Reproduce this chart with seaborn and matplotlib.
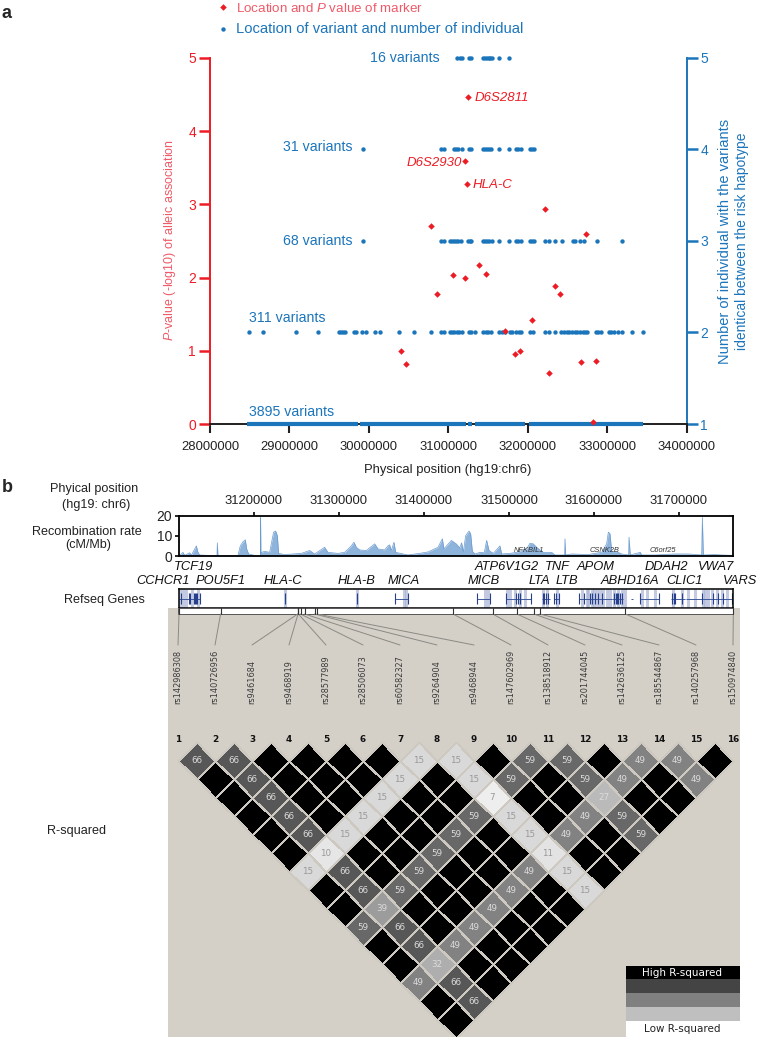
import numpy as np
import matplotlib
matplotlib.use('Agg')
import matplotlib.pyplot as plt
from matplotlib.transforms import Affine2D
from matplotlib.patches import Rectangle
import seaborn as sns

W, H = 757, 1037
RED = '#ed1c24'
PINK = '#ee5a68'
BLUE = '#1b75bb'

# panel a, positions in Mb
marker_pos = [30.407, 30.473, 30.863, 31.062, 31.204, 31.381, 31.473, 31.708, 31.836, 31.907, 32.049,
              32.270, 32.345, 32.407, 32.673, 32.858, 32.823, 31.254, 31.206, 31.236, 32.214, 30.780, 32.730]
marker_p = [1.00, 0.82, 1.78, 2.03, 2.00, 2.17, 2.05, 1.27, 0.96, 1.00, 1.42,
            0.70, 1.88, 1.77, 0.85, 0.86, 0.03, 4.47, 3.59, 3.28, 2.94, 2.70, 2.59]

row5_pos = [31.115, 31.144, 31.174, 31.257, 31.287, 31.439, 31.468, 31.493, 31.515, 31.531, 31.552, 31.644, 31.770]
row4_pos = [29.926, 30.913, 30.942, 31.068, 31.098, 31.123, 31.174, 31.257, 31.287, 31.439, 31.468, 31.493,
            31.515, 31.540, 31.644, 31.770, 31.855, 31.880, 31.909, 32.032, 32.057, 32.082]
row3_pos = [29.926, 30.913, 30.942, 31.022, 31.048, 31.073, 31.102, 31.123, 31.165, 31.249, 31.270, 31.291,
            31.439, 31.468, 31.493, 31.518, 31.544, 31.644, 31.770, 31.855, 31.880, 31.909, 32.032, 32.057,
            32.082, 32.212, 32.266, 32.347, 32.426, 32.569, 32.594, 32.653, 32.708, 32.876, 33.187]
row2_pos = [28.496, 28.665, 29.084, 29.358, 29.618, 29.643, 29.673, 29.702, 29.816, 29.841, 29.917, 29.958,
            30.077, 30.135, 30.380, 30.569, 30.783, 30.913, 30.951, 31.018, 31.048, 31.077, 31.111, 31.140,
            31.178, 31.257, 31.287, 31.333, 31.439, 31.472, 31.506, 31.540, 31.644, 31.678, 31.720, 31.774,
            31.808, 31.855, 31.888, 31.913, 32.027, 32.064, 32.216, 32.266, 32.347, 32.422, 32.455, 32.489,
            32.523, 32.556, 32.590, 32.624, 32.657, 32.691, 32.725, 32.750, 32.855, 32.880, 32.927, 33.028,
            33.053, 33.086, 33.142, 33.192, 33.318, 33.448]
row1_start = [28.47, 29.89, 31.25, 31.33, 32.02]
row1_end = [29.86, 31.22, 31.30, 31.96, 33.45]

# panel b, positions in kb
recomb_pos = [31111.8, 31116.5, 31118.4, 31124.3, 31126.3, 31132.2, 31134.1, 31136.1, 31145.9, 31156.5, 31156.9,
              31157.6, 31181.2, 31183.9, 31187.1, 31189.8, 31191.4, 31193.7, 31200.8, 31207.5, 31207.8, 31208.2,
              31209, 31212.5, 31218.4, 31223.1, 31225.5, 31227.5, 31229, 31236.1, 31255.7, 31265.5, 31271.4,
              31283.1, 31287.1, 31298.8, 31306.7, 31314.5, 31317.6, 31320.4, 31324.3, 31332.2, 31342, 31345.9,
              31353.7, 31357.6, 31359.6, 31361.6, 31364.7, 31366.7, 31381.2, 31394.9, 31404.7, 31416.5, 31421.6,
              31423.5, 31432.2, 31438, 31442, 31444.3, 31446.3, 31449, 31452.9, 31454.9, 31456.9, 31460, 31465.9,
              31471, 31473.7, 31476.5, 31481.6, 31489.4, 31491.4, 31501.2, 31509, 31514.9, 31520.8, 31524.7,
              31528.6, 31532.5, 31540.4, 31550.2, 31554.1, 31565.5, 31565.9, 31566.7, 31573.7, 31593.3, 31601.2,
              31609, 31614.9, 31616.9, 31618.8, 31620.8, 31628.6, 31632.5, 31640.8, 31641.2, 31642.7, 31654.5,
              31656.1, 31671.8, 31695.3, 31711, 31726.7, 31727.5, 31728.6, 31742.4, 31750.2, 31763.9]
recomb_rate = [0, 1.8, 0.3, 1.6, 0.3, 5, 1.8, 0.5, 0.3, 0.3, 6.5,
               0.3, 0.3, 5, 7, 8, 3.5, 1, 0.3, 0.3, 19, 0.3,
               1.8, 2.3, 1.8, 11.8, 12.3, 10, 1.3, 0.7, 1.3, 2.7, 1,
               4.3, 1.8, 1.3, 1.8, 5, 6.8, 4.3, 3, 2.7, 6, 3.5,
               3, 5, 5.5, 2.7, 6.8, 1.8, 0.5, 1.3, 2, 4.3, 8.5,
               3.5, 7.7, 6, 4, 6.5, 1.8, 10, 12.3, 11, 2.3, 1, 1.8,
               1.8, 7.7, 2.7, 1.3, 5, 1, 1.3, 1.8, 2.7, 3.5, 6.3,
               6, 4.3, 1.8, 1.8, 0.5, 0.5, 8.5, 0.5, 1, 0.7, 1.3,
               1.8, 6, 11.8, 11, 2.3, 1.8, 1, 0.5, 9.3, 0.5, 1.8,
               0.5, 0.5, 1, 1, 0.5, 19, 0.5, 0.7, 0.5, 0.3]
recomb_ticks = [31200, 31300, 31400, 31500, 31600, 31700]

gene_span_start = [31111.4, 31365.9, 31462, 31496, 31511, 31539, 31553, 31582, 31621, 31643.5, 31654, 31691, 31708]
gene_span_end = [31136.1, 31381.2, 31477.6, 31511, 31526, 31548, 31559, 31621, 31634.5, 31646, 31676, 31707, 31762]
gene_dark = [31114.5, 31123.1, 31124.3, 31129.4, 31130.6, 31131.8, 31132.9, 31136, 31236.5, 31321.6, 31365.9, 31381.2,
             31462, 31477.6, 31496, 31508, 31511, 31513, 31526, 31540, 31541.6, 31543, 31545.5, 31553, 31555.7, 31559,
             31582.4, 31588.6, 31595, 31598, 31601, 31605, 31609, 31624, 31625.5, 31627, 31628.6, 31630.6, 31632.5,
             31654, 31676, 31692, 31693.7, 31695, 31704, 31726.7, 31740, 31746, 31752, 31762]
gene_light = [31112.5, 31116.5, 31119.6, 31127, 31134, 31236.5, 31321.6, 31377, 31379, 31471.8, 31475.7, 31497.3,
              31501.2, 31507, 31513, 31518.8, 31540.4, 31544.3, 31556, 31585.5, 31591.4, 31593.3, 31597.3, 31600.4,
              31603, 31607, 31611, 31614.9, 31618.8, 31624, 31627.8, 31632.5, 31636.5, 31656, 31662, 31671.8, 31693.3,
              31703, 31711, 31718.8, 31728.6, 31730.6, 31734.5, 31738.4, 31744.3, 31750.2, 31756]
gene_names_up = ['TCF19', 'ATP6V1G2', 'TNF', 'APOM', 'DDAH2', 'VWA7']
gene_names_up_x = [193.5, 507, 557.5, 596, 666, 716.5]
gene_names_low = ['CCHCR1', 'POU5F1', 'HLA-C', 'HLA-B', 'MICA', 'MICB', 'LTA', 'LTB', 'ABHD16A', 'CLIC1', 'VARS']
gene_names_low_x = [162.5, 221, 283, 357, 403.5, 484, 539, 567, 630, 684, 740]

snp_names = ['rs142986308', 'rs140726956', 'rs9461684', 'rs9468919', 'rs28577989', 'rs28506073', 'rs60582327',
             'rs9264904', 'rs9468944', 'rs147602969', 'rs138518912', 'rs201744045', 'rs142636125', 'rs185544867',
             'rs140257968', 'rs150974840']
snp_pos = [31111.8, 31160.7, 31251.4, 31251.8, 31252.2, 31254.8, 31259.5, 31271.2, 31274, 31434.1, 31480.9,
           31509.2, 31529.3, 31536.2, 31636.9, 31763.9]

# everything else in the matrix is 100 (black)
snp2_r2 = [66, 0, 66, 66, 66, 66, 66, 10, 66, 66, 39, 66, 66, 32, 66, 66]
snp8_r2 = [15, 10, 15, 15, 15, 15, 15, 0, 15, 15, 7, 15, 15, 11, 15, 15]
snp11_r2 = [59, 39, 59, 59, 59, 59, 59, 7, 59, 59, 0, 59, 59, 27, 59, 59]
snp14_r2 = [49, 32, 49, 49, 49, 49, 49, 11, 49, 49, 27, 49, 49, 0, 49, 49]

legend_labels = ['High R-squared', '', '', '', 'Low R-squared']
legend_colors = ['#000000', '#444444', '#808080', '#bfbfbf', '#ffffff']

sns.set_style('white')
plt.rcParams['font.family'] = ['Liberation Sans', 'DejaVu Sans']
plt.rcParams['mathtext.fontset'] = 'custom'
plt.rcParams['mathtext.rm'] = 'Liberation Sans'
plt.rcParams['mathtext.it'] = 'Liberation Sans:italic'

fig = plt.figure(figsize=(W / 100, H / 100), dpi=100)


def px_axes(left, top, right, bottom):
    return fig.add_axes([left / W, 1 - bottom / H, (right - left) / W, (bottom - top) / H])


def kb_to_px(kb):
    return 254 + (kb - 31200) * 0.85


# panel a
ax = px_axes(210, 58, 686.6, 424)
ax.set_xlim(28e6, 34e6)
ax.set_ylim(0, 5)
sns.scatterplot(x=np.array(marker_pos) * 1e6, y=marker_p, marker='D', s=11, color=RED, linewidth=0,
                ax=ax, clip_on=False, zorder=5)
# lowest variant row, right axis 1 sits on left axis 0
ax.hlines([0] * len(row1_start), np.array(row1_start) * 1e6, np.array(row1_end) * 1e6,
          color=BLUE, linewidth=3, clip_on=False, zorder=4)
ax.set_xticks(np.arange(28, 35) * 1000000)
ax.set_xticklabels([str(v * 1000000) for v in range(28, 35)], fontsize=9.4, color='#222222')
ax.set_yticks(range(6))
ax.tick_params(axis='x', bottom=True, length=6.5, width=1.5, color='#231f20', pad=6)
ax.tick_params(axis='y', left=True, length=8, width=1.8, color=RED, labelcolor=RED, labelsize=10, pad=2)
for s in ['top', 'right']:
    ax.spines[s].set_visible(False)
ax.spines['left'].set_color(RED)
ax.spines['left'].set_linewidth(1.4)
ax.spines['bottom'].set_color('#231f20')
ax.spines['bottom'].set_linewidth(1.4)

ax2 = ax.twinx()
ax2.set_ylim(1, 5)
for vals, level in [(row5_pos, 5), (row4_pos, 4), (row3_pos, 3), (row2_pos, 2)]:
    sns.scatterplot(x=np.array(vals) * 1e6, y=[level] * len(vals), marker='o', s=10, color=BLUE, linewidth=0,
                    ax=ax2, clip_on=False)
ax2.set_xlim(28e6, 34e6)
ax2.set_yticks(range(1, 6))
ax2.tick_params(axis='y', right=True, length=8, width=1.8, color=BLUE, labelcolor=BLUE, labelsize=10, pad=2)
ax2.set_ylabel('')
for s in ['top', 'left', 'bottom']:
    ax2.spines[s].set_visible(False)
ax2.spines['right'].set_color(BLUE)
ax2.spines['right'].set_linewidth(1.4)
ax2.grid(False)
ax.grid(False)
ax.set_zorder(ax2.get_zorder() + 1)
ax.patch.set_visible(False)

# recombination rate
ax_rec = px_axes(179, 515.5, 733.3, 556)
ax_rec.set_xlim(31111.8, 31763.9)
ax_rec.set_ylim(0, 20)
ax_rec.fill_between(recomb_pos, recomb_rate, color='#8fb4dc', linewidth=0)
sns.lineplot(x=recomb_pos, y=recomb_rate, color='#6a9bd0', linewidth=0.5, ax=ax_rec, estimator=None, sort=False)
ax_rec.set_xticks(recomb_ticks)
ax_rec.set_xticklabels([str(t * 1000) for t in recomb_ticks], fontsize=9.4, color='#222222')
ax_rec.set_yticks([0, 10, 20])
ax_rec.tick_params(axis='x', top=True, bottom=False, labeltop=True, labelbottom=False, length=3, width=1.2,
                   color='black', pad=3)
ax_rec.tick_params(axis='y', left=True, length=3, width=1.2, color='black', labelsize=10, pad=2,
                   labelcolor='#222222')
for s in ax_rec.spines.values():
    s.set_color('black')
    s.set_linewidth(1.3)

# genes
ax_gene = px_axes(179, 589, 733.3, 608)
ax_gene.set_xlim(31111.8, 31763.9)
ax_gene.set_ylim(0, 1)
ax_gene.vlines(gene_light, 0, 1, color='#aab4d6', linewidth=2.2, alpha=0.7)
ax_gene.hlines([0.5] * len(gene_span_start), gene_span_start, gene_span_end, color='#3f5a9c', linewidth=0.7)
ax_gene.vlines(gene_dark, 0.2, 0.8, color='#27408b', linewidth=0.8)
ax_gene.set_xticks([])
ax_gene.set_yticks([])
for s in ax_gene.spines.values():
    s.set_color('black')
    s.set_linewidth(1.1)

# overlay in image pixels: grey panel, LD triangle and all loose text
ov = fig.add_axes([0, 0, 1, 1], zorder=5)
ov.patch.set_visible(False)

n = len(snp_names)
ld = np.full((n, n), 100.0)
for idx, vals in [(1, snp2_r2), (7, snp8_r2), (10, snp11_r2), (13, snp14_r2)]:
    ld[idx, :] = vals
    ld[:, idx] = vals
mask = np.tril(np.ones((n, n), dtype=bool))
annot = np.where(ld >= 100, '', ld.astype(int).astype(str))

sns.heatmap(ld, mask=mask, cmap='gray_r', vmin=0, vmax=100, annot=annot, fmt='', cbar=False, square=False,
            linewidths=0.7, linecolor='#cdc9c1', xticklabels=False, yticklabels=False, ax=ov,
            annot_kws={'fontsize': 6.3, 'family': 'DejaVu Sans'})
ov.set_xlim(0, W)
ov.set_ylim(H, 0)
ov.axis('off')

# turn the heatmap cells into diamonds hanging below the SNP columns
step = 18.5
SNP_X0, ROW_Y0 = 178, 760.7
rot = Affine2D(np.array([[step, step, SNP_X0 - step], [step, -step, ROW_Y0 - step], [0, 0, 1]]))
mesh = ov.collections[0]
mesh.set_transform(rot + ov.transData)
mesh.set_zorder(2)
# masked cells would still get their outline, so make it transparent there
edge_cols = np.tile(matplotlib.colors.to_rgba('#cdc9c1'), (n * n, 1))
edge_cols[mask.ravel(), 3] = 0
mesh.set_edgecolor(edge_cols)
for t in ov.texts:
    t.set_transform(rot + ov.transData)
    val = int(t.get_text()) if t.get_text() else 100
    t.set_color('#dcdcdc' if val >= 25 else '#999999')
    t.set_zorder(3)

ov.add_patch(Rectangle((168, 608), 572, H - 608, facecolor='#d4d0c8', edgecolor='none', zorder=0))
ov.add_patch(Rectangle((178.3, 608), 555, 6, facecolor='white', edgecolor='#555555', linewidth=0.7, zorder=1))

snp_x = [SNP_X0 + 37 * i for i in range(n)]
for i, name in enumerate(snp_names):
    top_x = kb_to_px(snp_pos[i])
    ov.plot([top_x, top_x], [608, 614], color='#333333', lw=0.8, zorder=2)
    ov.plot([top_x, snp_x[i]], [614, 645], color='#8a8a84', lw=0.7, zorder=1)
    ov.text(snp_x[i], 704, name, rotation=90, ha='center', va='bottom', fontsize=5.9,
            family='DejaVu Sans', color='#3a3a3a')
    ov.text(snp_x[i], 739, str(i + 1), ha='center', va='center', fontsize=6.4, fontweight='bold',
            family='DejaVu Sans', color='#111111')

# R-squared key
y_edges = [966, 979, 993, 1007, 1021, 1037]
for i, (label, col) in enumerate(zip(legend_labels, legend_colors)):
    ov.add_patch(Rectangle((626, y_edges[i]), 114, y_edges[i + 1] - y_edges[i], facecolor=col, edgecolor='none',
                           zorder=2))
    if label:
        ov.text(682, (y_edges[i] + y_edges[i + 1]) / 2, label, ha='center', va='center', fontsize=7.5,
                family='DejaVu Sans', color='white' if i == 0 else '#222222', zorder=3)

# top legend of panel a
ov.scatter([223], [7], marker='D', s=11, color=RED, linewidth=0)
ov.scatter([223], [29], marker='o', s=10, color=BLUE, linewidth=0)
ov.text(236, 8.5, r'Location and $\mathit{P}$ value of marker', fontsize=9.6, color=PINK, va='center')
ov.text(236, 29, 'Location of variant and number of individual', fontsize=10.6, color=BLUE, va='center')

for label, x, y in [('16 variants', 370, 58), ('31 variants', 283, 147), ('68 variants', 283, 241),
                    ('311 variants', 249, 318), ('3895 variants', 249, 412)]:
    ov.text(x, y, label, fontsize=10.2, color=BLUE, va='center')

ov.text(475, 98, 'D6S2811', fontsize=9.5, style='italic', color=RED, va='center')
ov.text(461.7, 163, 'D6S2930', fontsize=9.5, style='italic', color=RED, va='center', ha='right')
ov.text(473, 185, 'HLA-C', fontsize=9.5, style='italic', color=RED, va='center')

ov.text(170, 240, r'$\mathit{P}$-value (-log10) of alleic association', rotation=90, fontsize=9, color=PINK,
        ha='center', va='center')
ov.text(725, 241, 'Number of individual with the variants', rotation=90, fontsize=10.5, color=BLUE,
        ha='center', va='center')
ov.text(742, 241, 'identical between the risk hapotype', rotation=90, fontsize=10, color=BLUE,
        ha='center', va='center')
ov.text(448, 470, 'Physical position (hg19:chr6)', fontsize=9.4, color='#222222', ha='center', va='center')

ov.text(2, 13, 'a', fontsize=13, fontweight='bold', va='center')
ov.text(2, 487, 'b', fontsize=13, fontweight='bold', va='center')

for label, x, y in [('Phyical position', 94, 489), ('(hg19: chr6)', 96, 505), ('Recombination rate', 87, 532),
                    ('(cM/Mb)', 88, 545), ('Refseq Genes', 104, 600.5), ('R-squared', 77, 831)]:
    ov.text(x, y, label, fontsize=9.1, color='#222222', ha='center', va='center')

for name, x in zip(gene_names_up, gene_names_up_x):
    ov.text(x, 567, name, fontsize=9.3, style='italic', color='#111111', ha='center', va='center')
for name, x in zip(gene_names_low, gene_names_low_x):
    ov.text(x, 581, name, fontsize=9.3, style='italic', color='#111111', ha='center', va='center')

for name, x in [('NFKBIL1', 529), ('CSNK2B', 605), ('C6orf25', 663)]:
    ov.text(x, 551, name, fontsize=5.4, style='italic', color='#333333', ha='center', va='center')

fig.savefig('out.png', dpi=100)
